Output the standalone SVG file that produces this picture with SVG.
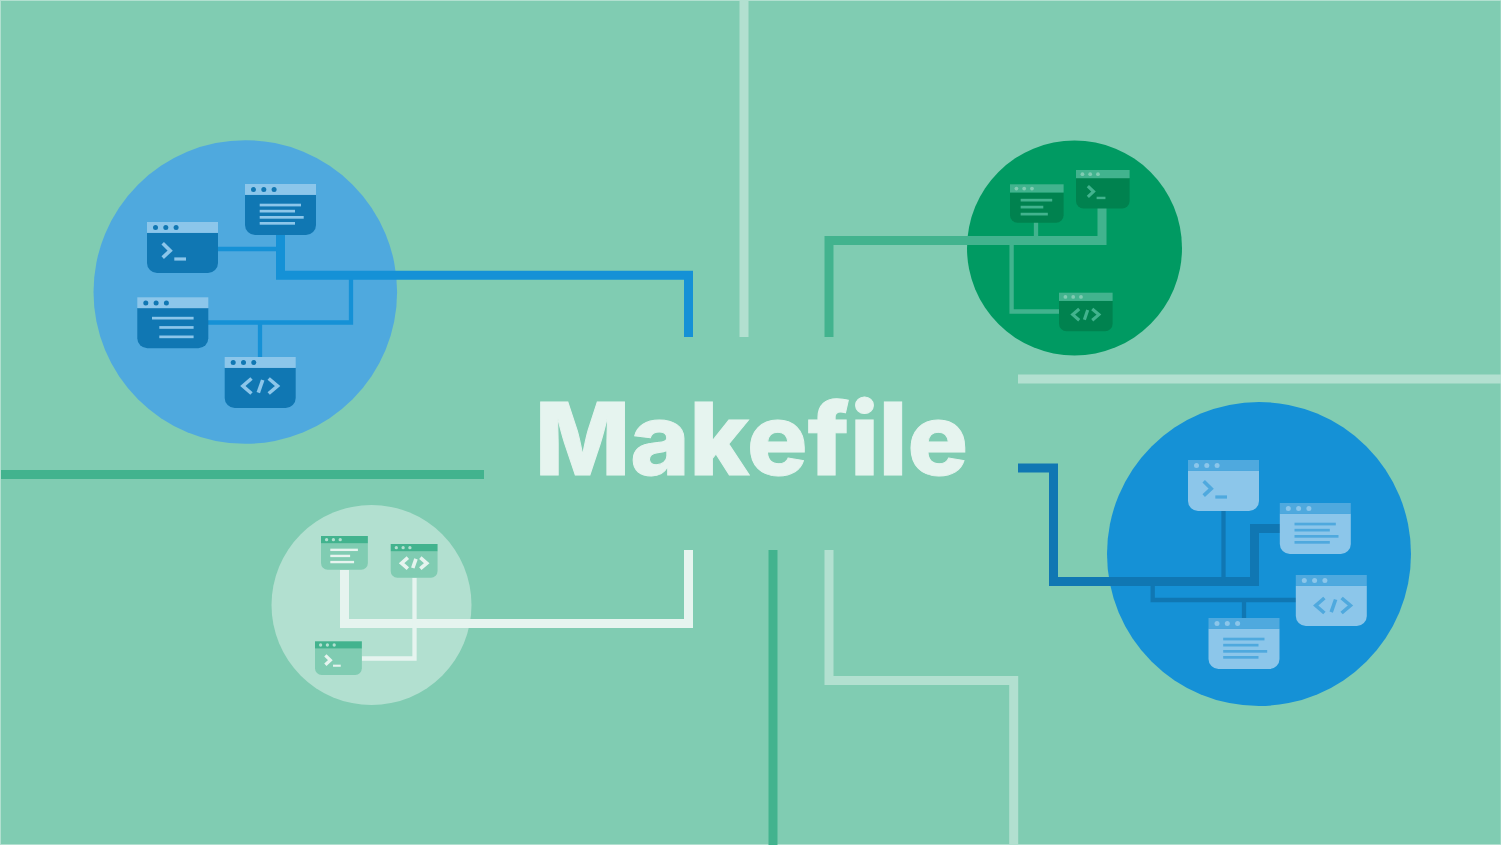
<svg xmlns="http://www.w3.org/2000/svg" width="1501" height="845" viewBox="0 0 1501 845">
<style>
.c{fill:none;stroke-linejoin:miter}
.w9{stroke-width:9}.w4{stroke-width:4.3}
.pale{stroke:#b2e0d0}.grn{stroke:#42b38e}.blu{stroke:#1591d6}.dbl{stroke:#1077b3}.wht{stroke:#e6f4ef}
.t1{--b:#1077b3;--h:#8cc6ea;--d:#1077b3;--g:#8cc6ea;--s:3.6}
.t2{--b:#00824f;--h:#42b38e;--d:#80ccb2;--g:#42b38e;--s:4.2}
.t3{--b:#8cc6ea;--h:#4fa9de;--d:#8cc6ea;--g:#4fa9de;--s:3.6}
.t4{--b:#80ccb2;--h:#42b38e;--d:#b2e0d0;--g:#e6f4ef;--s:5}
.title{font-family:Inter,"Liberation Sans",sans-serif;font-weight:800;font-size:100px;fill:#e6f4ef;stroke:#e6f4ef;stroke-width:1}
</style>
<defs>
<g id="win">
<path d="M0 10.7H71V41a10 10 0 0 1-10 10H10A10 10 0 0 1 0 41Z" style="fill:var(--b)"/>
<rect width="71" height="10.9" style="fill:var(--h)"/>
<circle cx="8.5" cy="5.6" r="2.5" style="fill:var(--d)"/><circle cx="18.8" cy="5.6" r="2.5" style="fill:var(--d)"/><circle cx="29.1" cy="5.6" r="2.5" style="fill:var(--d)"/>
</g>
<g id="term" style="fill:none;stroke:var(--g);stroke-width:var(--s)">
<path d="M15.7 21.3L23.2 28.6L15.7 35.6"/>
<rect x="27.3" y="35.4" width="11.7" height="3.2" style="fill:var(--g);stroke:none"/>
</g>
<g id="code" style="fill:none;stroke:var(--g);stroke-width:var(--s)">
<path d="M26.8 21.5L18.2 29L26.8 36.5"/><path d="M38 23L33.6 35.7"/><path d="M44 21.5L52.8 29L44 36.5"/>
</g>
<g id="txt" style="fill:var(--g)">
<rect x="14.7" y="19.7" width="41.3" height="2.7"/><rect x="14.7" y="25.8" width="35.3" height="2.7"/><rect x="14.7" y="32" width="44" height="2.7"/><rect x="14.7" y="38" width="35.3" height="2.7"/>
</g>
<g id="txt3" style="fill:var(--g)">
<rect x="14.7" y="19.5" width="41.6" height="2.7"/><rect x="22" y="28.8" width="34.3" height="2.7"/><rect x="22" y="38.2" width="34.3" height="2.7"/>
</g>
<g id="txt2" style="fill:var(--g)">
<rect x="14.1" y="19.2" width="41.8" height="3.6"/><rect x="14.1" y="28.4" width="30" height="3.6"/><rect x="14.1" y="37.7" width="36" height="3.6"/>
</g>
</defs>
<rect width="1501" height="845" fill="#b2e0d0"/>
<rect x="1" y="1" width="1499.5" height="843" fill="#80ccb2"/>
<g id="circles">
<circle cx="245.3" cy="292" r="151.8" fill="#4fa9de"/>
<circle cx="1074.5" cy="248" r="107.5" fill="#009a62"/>
<circle cx="1259" cy="554" r="152" fill="#1591d6"/>
<circle cx="371.5" cy="605" r="100" fill="#b2e0d0"/>
</g>
<g id="connectors">
<path class="c w9 pale" d="M744 1V337"/>
<path class="c w9 grn" d="M1 474.5H484"/>
<path class="c w9 pale" d="M1018 379H1501"/>
<path class="c w9 grn" d="M773 550V845"/>
<path class="c w9 pale" d="M829 550V680.5H1013.7V845"/>
<path class="c w9 blu" d="M280.5 235V275.3H688.5V337"/>
<path class="c w4 blu" d="M218 249H277"/>
<path class="c w4 blu" d="M208 322.5H351V279"/>
<path class="c w4 blu" d="M260 322.5V357"/>
<path class="c w9 grn" d="M829 337V240.5H1102V208"/>
<path class="c w4 grn" d="M1036 222V240"/>
<path class="c w4 grn" d="M1011.6 245V311.5H1059"/>
<path class="c w9 dbl" d="M1018 468H1053.5V581.5H1254.5V528.5H1280"/>
<path class="c w4 dbl" d="M1223.5 511V581"/>
<path class="c w4 dbl" d="M1152.7 586V600H1296"/>
<path class="c w4 dbl" d="M1244 600V618"/>
<path class="c w9 wht" d="M344.5 570V623.5H688.5V550"/>
<path class="c w4 wht" d="M361.7 658.5H414.5V577.7"/>
</g>
<g id="n1" class="t1" transform="translate(245,184)"><use href="#win"/><use href="#txt"/></g>
<g id="n2" class="t1" transform="translate(147,222)"><use href="#win"/><use href="#term"/></g>
<g id="n3" class="t1" transform="translate(137.3,297.3)"><use href="#win"/><use href="#txt3"/></g>
<g id="n4" class="t1" transform="translate(224.7,357)"><use href="#win"/><use href="#code"/></g>
<g id="n5" class="t2" transform="translate(1010,184.3) scale(.755)"><use href="#win"/><use href="#txt2"/></g>
<g id="n6" class="t2" transform="translate(1076,170) scale(.755)"><use href="#win"/><use href="#term"/></g>
<g id="n7" class="t2" transform="translate(1059,292.7) scale(.755)"><use href="#win"/><use href="#code"/></g>
<g id="n8" class="t3" transform="translate(1188,460)"><use href="#win"/><use href="#term"/></g>
<g id="n9" class="t3" transform="translate(1279.8,503)"><use href="#win"/><use href="#txt"/></g>
<g id="n10" class="t3" transform="translate(1295.8,575)"><use href="#win"/><use href="#code" transform="translate(1.8,1.5)"/></g>
<g id="n11" class="t3" transform="translate(1208.5,618)"><use href="#win"/><use href="#txt"/></g>
<g id="n12" class="t4" transform="translate(321,536) scale(.66)"><use href="#win"/><use href="#txt2"/></g>
<g id="n13" class="t4" transform="translate(390.7,544) scale(.66)"><use href="#win"/><use href="#code" transform="translate(-3.5,-2.9) scale(1.1)"/></g>
<g id="n14" class="t4" transform="translate(315,641.3) scale(.66)"><use href="#win"/><use href="#term"/></g>
<g id="title"><text class="title" x="535" y="475" textLength="433" lengthAdjust="spacingAndGlyphs">Makefile</text></g>
</svg>
